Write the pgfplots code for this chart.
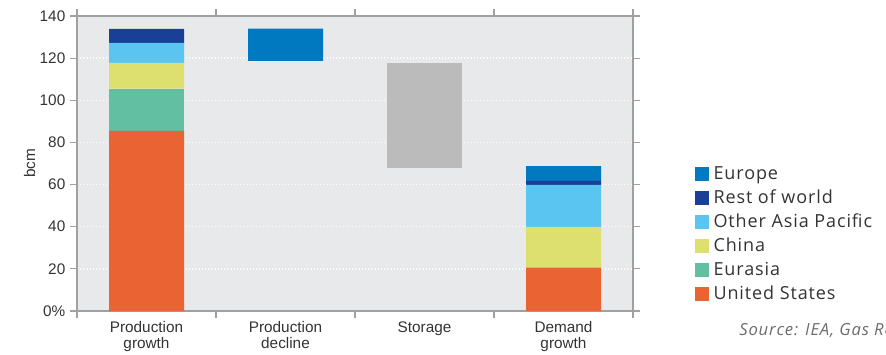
\documentclass[border=0pt]{standalone}
\usepackage{fontspec}
\setmainfont{Liberation Sans}
\newfontfamily\legfont[LetterSpace=5]{Open Sans}
\usepackage{pgfplots}
\usepackage{pgfplotstable}
\pgfplotsset{compat=1.18}
\definecolor{cUS}{HTML}{EA6333}
\definecolor{cEur}{HTML}{63BFA2}
\definecolor{cChina}{HTML}{DDE06F}
\definecolor{cOAP}{HTML}{5BC5F2}
\definecolor{cRoW}{HTML}{193F96}
\definecolor{cEurope}{HTML}{0079C1}
\definecolor{cStor}{HTML}{BBBBBB}
\definecolor{cBg}{HTML}{E8E9EB}
\definecolor{cAx}{HTML}{A0A0A0}
\definecolor{cTxt}{HTML}{333333}
\pgfplotstableread{
x base us eurasia china oap row europe storage
0 0     85.5 20 12.3 9.5  6.6 0    0
1 118.7 0    0  0    0    0   15.3 0
2 68    0    0  0    0    0   0    49.5
3 0     20.6 0  19.3 19.9 1.9 7.1  0
}\datatable
\begin{document}
\begin{tikzpicture}
\path[use as bounding box] (0,0) rectangle (664.5pt,265.5pt);
\begin{axis}[
  at={(57.75pt,32.25pt)}, anchor=south west,
  scale only axis, width=417pt, height=221.25pt,
  ybar stacked, bar width=56.25pt,
  xmin=-0.5, xmax=3.5, ymin=0, ymax=140,
  xtick={0,1,2,3},
  xticklabels={{Production\\growth},{Production\\decline},{Storage},{Demand\\growth}},
  xticklabel style={align=center, font=\fontsize{11.5}{12}\selectfont, text=cTxt, yshift=1pt},
  major x tick style={draw=none},
  minor xtick={-0.5,0.5,1.5,2.5,3.5},
  minor tick length=5.25pt,
  minor x tick style={cAx, line width=0.8pt},
  ytick={0,20,...,140},
  yticklabels={0\%,20,40,60,80,100,120,140},
  yticklabel style={font=\fontsize{11.5}{12}\selectfont, text=cTxt},
  major tick length=5.25pt,
  tick align=outside,
  y tick style={cAx, line width=0.8pt},
  /pgf/number format/assume math mode=true,
  ymajorgrids, grid style={white, dotted, line width=1pt},
  axis background/.style={fill=cBg},
  axis line style={cAx, line width=0.8pt},
  ylabel={bcm}, ylabel style={at={(axis description cs:-0.085,0.5)}, anchor=center, font=\fontsize{11.5}{12}\selectfont, text=cTxt},
  reverse legend,
  legend style={at={(1.103,0.5)}, anchor=north west, draw=none, fill=none,
    font=\legfont\fontsize{13.5}{14}\selectfont, text=cTxt,
    nodes={inner sep=0pt, text height=9.5pt, text depth=2.5pt},
    row sep=6pt, column sep=3.75pt, cells={anchor=west}},
  legend image code/.code={\fill[#1] (0pt,-5.25pt) rectangle (10.5pt,5.25pt);},
]
\addplot[fill=none, draw=none, forget plot] table[x=x, y=base] {\datatable};
\addplot[fill=cUS, draw=none] table[x=x, y=us] {\datatable};
\addlegendentry{United States}
\addplot[fill=cEur, draw=none] table[x=x, y=eurasia] {\datatable};
\addlegendentry{Eurasia}
\addplot[fill=cChina, draw=none] table[x=x, y=china] {\datatable};
\addlegendentry{China}
\addplot[fill=cOAP, draw=none] table[x=x, y=oap] {\datatable};
\addlegendentry{Other Asia Pacific}
\addplot[fill=cRoW, draw=none] table[x=x, y=row] {\datatable};
\addlegendentry{Rest of world}
\addplot[fill=cEurope, draw=none] table[x=x, y=europe] {\datatable};
\addlegendentry{Europe}
\addplot[fill=cStor, draw=none, forget plot] table[x=x, y=storage] {\datatable};
\end{axis}
\node[anchor=base west, inner sep=0pt, text=gray!85!black, font=\legfont\itshape\fontsize{12.5}{13}\selectfont] at (554.25pt,14.25pt) {Source: IEA, Gas Report};
\end{tikzpicture}
\end{document}
